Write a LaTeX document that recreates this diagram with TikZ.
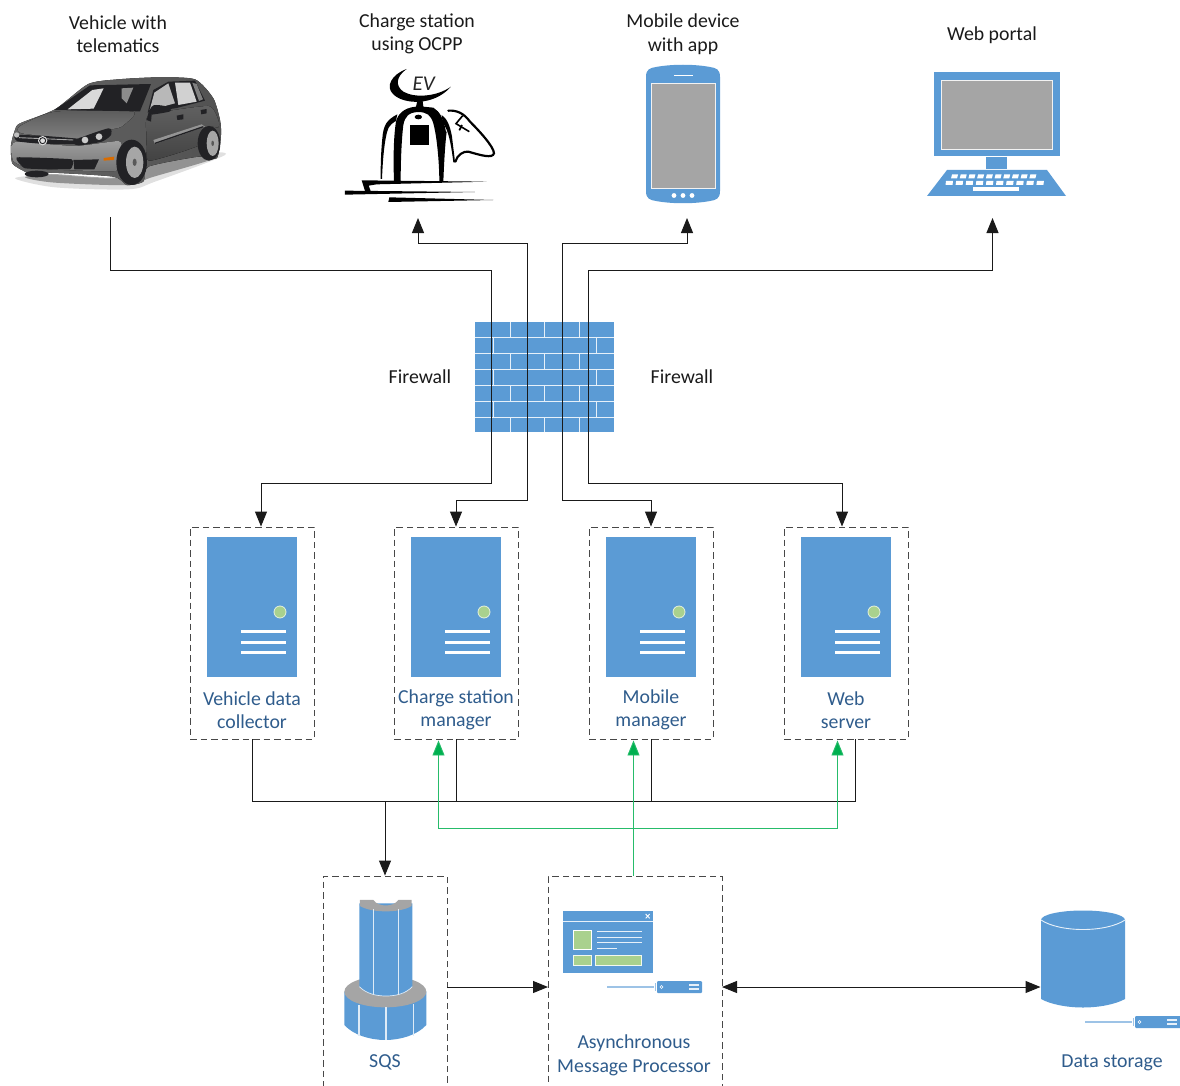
\documentclass[tikz,border=0pt]{standalone}
\usepackage{fontspec}
\setmainfont{Carlito}
\usetikzlibrary{arrows.meta,calc}
\definecolor{ibm}{HTML}{5B9BD5}
\definecolor{igray}{HTML}{A5A5A5}
\definecolor{igreen}{HTML}{A9D18E}
\definecolor{ltxt}{HTML}{2F5C8C}
\definecolor{ink}{HTML}{1A1A1A}
\definecolor{lblue}{HTML}{9DC3E6}
\definecolor{gline}{HTML}{00B050}
\definecolor{cardk}{HTML}{222225}
\tikzset{
 dashbox/.style={draw=ink!80,line width=0.9pt,dash pattern=on 6.5pt off 4pt,inner sep=0pt,anchor=center},
 blacklabel/.style={font=\fontsize{19.8}{23.5}\selectfont,text=ink,align=center,inner sep=0pt},
 bluelabel/.style={font=\fontsize{19.8}{23.5}\selectfont,text=ltxt,align=center,inner sep=0pt},
 conn/.style={draw=ink,line width=1pt},
 tip/.style={-{Triangle[length=15pt,width=12pt]}},
 tips/.style={{Triangle[length=15pt,width=12pt]}-{Triangle[length=15pt,width=12pt]}},
 gconn/.style={draw=gline!85,line width=0.9pt},
 gtip/.style={{Triangle[length=15pt,width=12pt,fill=gline]}-{Triangle[length=15pt,width=12pt,fill=gline]}},
 mortar/.style={draw=white!85!ibm,line width=1pt},
 whitebar/.style={draw=white,line width=3pt},
 zoomed/.style={x=0.33333pt,y=-0.33333pt},
}
\newcommand{\serverIcon}[2]{%
 \node[fill=ibm,minimum width=90pt,minimum height=140pt,inner sep=0pt] (#2) at (#1+45,607) {};
 \fill[igreen,draw=white!70!igreen,line width=0.8pt] (#1+73,612) circle (6pt);
 \foreach \yy in {631,642,652} \draw[whitebar] (#1+34,\yy) -- (#1+79,\yy);
}
\newcommand{\handleIcon}[3]{%
 \draw[lblue,line width=1.1pt] (#1,#2) -- (#1+47,#2);
 \fill[ibm,rounded corners=1pt] (#1+50,#2-6) rectangle (#3,#2+6);
 \draw[lblue,line width=0.8pt] (#1+48.5,#2-4) -- (#1+48.5,#2+4);
 \draw[white,line width=0.6pt] (#1+54.5,#2) circle (1.5pt);
 \draw[white!85!ibm,line width=1.1pt] (#1+82,#2-2) -- (#1+92,#2-2) (#1+82,#2+2) -- (#1+92,#2+2);
}
\begin{document}
\begin{tikzpicture}[x=1pt,y=-1pt]
\useasboundingbox (0,0) rectangle (1180,1086);
\clip (0,0) rectangle (1180,1086);

% ---------- top labels
\node[blacklabel] (lcar) at (118,34) {Vehicle with\\telematics};
\node[blacklabel] (lev) at (417,34) {Charge station\\using OCPP};
\node[blacklabel] (lphone) at (683,34) {Mobile device\\with app};
\node[blacklabel] (lweb) at (992,35) {Web portal};

% ---------- car
\begin{scope}[zoomed,shift={(15,210)}]
 % shadow
 \fill[black,opacity=0.12] plot[smooth cycle] coordinates {(30,325) (140,315) (330,325) (430,285) (580,250) (660,255) (450,335) (370,358) (150,352)};
 \fill[black,opacity=0.35] plot[smooth cycle] coordinates {(60,322) (140,312) (330,322) (430,282) (580,255) (630,265) (440,322) (370,345) (150,338)};
 % body
 \fill[left color=black!60,right color=black!68] plot[smooth cycle,tension=0.4] coordinates {(18,225) (30,180) (45,160) (150,118) (250,42) (340,28) (460,22) (570,28) (625,85) (645,150) (648,195) (635,265) (580,260) (430,290) (415,335) (365,345) (325,320) (130,308) (95,320) (60,305) (22,280)};
 % hood
 \fill[top color=black!64,bottom color=black!50] plot[smooth cycle,tension=0.35] coordinates {(45,168) (150,125) (385,125) (350,170) (320,178) (210,205) (50,190)};
 % bumper
 \fill[top color=black!38,bottom color=black!55] plot[smooth cycle,tension=0.3] coordinates {(20,228) (40,215) (210,228) (340,213) (350,235) (335,302) (130,298) (60,292) (24,272)};
 % door panel
 \fill[top color=black!62,bottom color=black!74] plot[smooth cycle,tension=0.3] coordinates {(432,135) (610,108) (640,150) (640,172) (605,170) (585,225) (432,272) (425,200)};
 \fill[black!42] (445,210) -- (590,163) -- (600,170) -- (450,222) -- cycle;
 \draw[cardk,line width=1.3pt] (450,220) -- (595,170);
 % windscreen
 \fill[cardk] (148,120) -- (255,46) -- (438,42) -- (405,124) -- cycle;
 \fill[white!85!black] (188,118) -- (262,60) -- (296,55) -- (266,116) -- cycle;
 \fill[black!45] (350,55) -- (385,53) -- (365,100) -- (350,85) -- cycle;
 % side glass
 \fill[cardk] (428,128) -- (445,60) -- (490,35) -- (570,32) -- (600,92) -- (515,114) -- cycle;
 \fill[black!28] (434,120) -- (448,68) -- (490,40) -- (510,100) -- cycle;
 \fill[black!18] (510,38) -- (555,38) -- (575,95) -- (520,105) -- cycle;
 \fill[black!50] (562,38) -- (575,42) -- (594,88) -- (582,93) -- cycle;
 % mirror
 \fill[cardk] plot[smooth cycle,tension=0.5] coordinates {(430,132) (445,106) (488,110) (495,124) (440,134)};
 \fill[cardk] (430,130) -- (440,134) -- (438,155) -- (425,150) -- cycle;
 % handles
 \fill[cardk] (515,137) -- (535,133) -- (535,148) -- (517,150) -- cycle;
 \fill[cardk] (587,120) -- (605,117) -- (605,130) -- (589,133) -- cycle;
 % grille
 \fill[cardk] plot[smooth cycle,tension=0.3] coordinates {(30,195) (120,198) (212,206) (208,222) (120,222) (38,214)};
 \draw[black!35,line width=0.9pt] (42,203) -- (205,210);
 \fill[black!12] (113,212) circle (14);
 \draw[cardk,line width=0.9pt] (113,212) circle (9);
 \fill[black!25] (35,195) circle (8);
 % headlight
 \fill[cardk] plot[smooth cycle,tension=0.4] coordinates {(205,212) (310,175) (318,195) (290,215) (220,226)};
 \fill[black!20] (240,210) circle (10);
 \fill[black!20] (282,200) circle (10);
 % lower grille
 \fill[cardk] plot[smooth cycle,tension=0.2] coordinates {(35,262) (200,268) (195,298) (60,295)};
 \fill[cardk] (205,270) -- (282,268) -- (268,298) -- (208,298) -- cycle;
 \fill[orange!85!black] (296,264) -- (328,260) -- (326,270) -- (296,272) -- cycle;
 % wheels
 \fill[cardk] (95,312) ellipse (36 and 10);
 \fill[cardk] (380,277) ellipse (46 and 68);
 \fill[black!35] (389,277) ellipse (26 and 47);
 \fill[black!65] (389,277) ellipse (6 and 11);
 \fill[cardk] (612,220) ellipse (34 and 52);
 \fill[black!35] (623,220) ellipse (18 and 38);
 \fill[black!65] (623,220) ellipse (4 and 8);
\end{scope}

% ---------- charge station
\begin{scope}[zoomed,shift={(1020,195)}]
 % crescent
 \fill[black] (200,12) .. controls (155,28) and (135,65) .. (160,88) .. controls (190,118) and (280,125) .. (333,65) .. controls (290,95) and (225,100) .. (190,80) .. controls (165,62) and (168,35) .. (200,12) -- cycle;
 \node[font=\itshape\fontsize{21}{21}\selectfont,inner sep=0pt,text=black!85] (evtext) at (251,55) {EV};
 % neck and body
 \fill[black] (232,108) -- (248,108) -- (250,125) -- (280,128) .. controls (300,140) and (310,160) .. (318,200) -- (320,200) .. controls (315,240) and (312,300) .. (310,350) -- (298,350) .. controls (298,300) and (292,220) .. (280,175) .. controls (272,150) and (262,142) .. (235,141) .. controls (205,142) and (195,155) .. (190,180) .. controls (184,230) and (182,300) .. (182,350) -- (162,350) .. controls (160,290) and (160,220) .. (168,170) .. controls (172,150) and (190,128) .. (228,125) -- cycle;
 % left arm
 \fill[black] (172,148) .. controls (140,165) and (130,180) .. (127,220) .. controls (122,270) and (122,310) .. (122,342) -- (126,342) .. controls (128,290) and (133,220) .. (145,190) .. controls (150,180) and (160,172) .. (168,168) -- cycle;
 % right arm
 \fill[black] (305,150) .. controls (320,160) and (330,180) .. (336,215) .. controls (340,250) and (343,270) .. (345,292) -- (340,292) .. controls (335,250) and (328,210) .. (318,190) -- (308,170) -- cycle;
 % screen and lamp
 \fill[black] (209,180) rectangle (267,241);
 \fill[black] (235,156) ellipse (11 and 7);
 % hose
 \draw[black,line width=2.2pt,line cap=round] (325,137) .. controls (350,135) and (372,145) .. (390,170) .. controls (415,195) and (462,245) .. (462,265) .. controls (458,282) and (420,270) .. (385,260) .. controls (370,258) and (352,270) .. (346,290);
 % nozzle
 \draw[black,line width=1.6pt] (368,152) -- (348,176) -- (388,200) (366,180) -- (358,196);
 % ground strokes
 \fill[black] (65,346) -- (440,350) -- (110,358) -- (86,362) -- (92,378) -- (75,378) -- cycle;
 \fill[black] (15,377) -- (405,381) -- (15,389) -- cycle;
 \fill[black] (148,397) -- (460,405) -- (145,411) -- cycle;
\end{scope}

% ---------- phone
\fill[ibm] (646,77) .. controls (646,69) and (650,68) .. (656,67) .. controls (672,64) and (694,64) .. (710,67) .. controls (716,68) and (720,69) .. (720,77) -- (720,191) .. controls (720,199) and (716,200) .. (710,201) .. controls (694,204) and (672,204) .. (656,201) .. controls (650,200) and (646,199) .. (646,191) -- cycle;
\node[fill=igray,draw=white!85!igray,line width=0.9pt,inner sep=0pt,minimum width=64pt,minimum height=104.5pt] (phone) at (683,135.75) {};
\draw[white,line width=0.8pt] (674,75) -- (693,75);
\foreach \xx in {674,683,692} \fill[white] (\xx,195.5) circle (2.4pt);

% ---------- monitor
\fill[ibm] (934,72) rectangle (1060,156);
\node[fill=igray,draw=white!85!igray,line width=0.9pt,inner sep=0pt,minimum width=111pt,minimum height=69pt] (screen) at (997.25,114.5) {};
\fill[ibm] (986,157) rectangle (1007,169);
\fill[ibm] (947,170) -- (1047,170) -- (1066,196) -- (927,196) -- cycle;
\foreach \kk in {0,...,9} {
 \fill[white] (952+\kk*8.7,174.5) -- (958+\kk*8.7,174.5) -- (957+\kk*8.7,178.5) -- (951+\kk*8.7,178.5) -- cycle;
 \fill[white] (946+\kk*10.1,181) -- (953+\kk*10.1,181) -- (952.5+\kk*10.1,185) -- (945.5+\kk*10.1,185) -- cycle;
}
\fill[white] (973,187.5) rectangle (1019,191.5);

% ---------- firewall
\node[fill=ibm,minimum width=139pt,minimum height=110pt,inner sep=0pt] (firewall) at (544.5,377) {};
\foreach \yy in {337.5,353.5,369,385,401,417} \draw[mortar] (475,\yy) -- (614,\yy);
\foreach \yt/\yb in {322/337.5,353.5/369,385/401,417/432} \foreach \xx in {510,544.5,579} \draw[mortar] (\xx,\yt) -- (\xx,\yb);
\foreach \yt/\yb in {337.5/353.5,369/385,401/417} \foreach \xx in {493,596} \draw[mortar] (\xx,\yt) -- (\xx,\yb);
\node[blacklabel] (lfw1) at (420,376.5) {Firewall};
\node[blacklabel] (lfw2) at (682,376.5) {Firewall};

% ---------- servers
\node[dashbox,minimum width=124pt,minimum height=212pt] (vdc) at (252,633) {};
\node[dashbox,minimum width=124pt,minimum height=212pt] (csm) at (456,633) {};
\node[dashbox,minimum width=124pt,minimum height=212pt] (mm) at (651,633) {};
\node[dashbox,minimum width=124pt,minimum height=212pt] (ws) at (846,633) {};
\serverIcon{207}{svA}
\serverIcon{411}{svB}
\serverIcon{606}{svC}
\serverIcon{801}{svD}
\node[bluelabel] (lvdc) at (252,710) {Vehicle data\\collector};
\node[bluelabel] (lcsm) at (456,710) {Charge station\\manager};
\node[bluelabel] (lmm) at (651,710) {Mobile\\manager};
\node[bluelabel] (lws) at (846,710) {Web\\server};

% ---------- lower boxes
\node[dashbox,minimum width=124pt,minimum height=240pt] (sqs) at (385,996) {};
\node[dashbox,minimum width=174pt,minimum height=240pt] (amp) at (635,996) {};

% SQS icon
\begin{scope}[zoomed,shift={(930,2610)}]
 \fill[ibm] (103,365) -- (103,465) .. controls (130,495) and (180,510) .. (226,510) .. controls (272,510) and (322,495) .. (349,465) -- (349,365) -- cycle;
 \fill[igray] (226,365) ellipse (123 and 47);
 \draw[white!80!ibm,line width=1.1pt] (147,404) -- (147,498) (228,412) -- (228,510) (310,402) -- (310,498);
 \fill[ibm] (148,100) -- (148,350) .. controls (170,372) and (200,378) .. (228,378) .. controls (256,378) and (286,372) .. (307,350) -- (307,100) -- cycle;
 \fill[igray] (150,90) -- (190,90) .. controls (205,112) and (250,112) .. (265,90) -- (305,90) -- (305,108) .. controls (285,120) and (255,124) .. (228,124) .. controls (200,124) and (170,120) .. (150,108) -- cycle;
 \draw[white!80!ibm,line width=1.1pt] (190,118) -- (190,373) (265,118) -- (265,373);
 \draw[white!80!ibm,line width=0.7pt] (148,350) .. controls (170,372) and (200,378) .. (228,378) .. controls (256,378) and (286,372) .. (307,350);
\end{scope}
\node[bluelabel] (lsqs) at (385,1062) {SQS};

% processor window
\begin{scope}[zoomed,shift={(930,2610)}]
 \fill[ibm] (758,122) rectangle (1028,310);
 \draw[white!85!ibm,line width=0.9pt] (758,155) -- (1028,155);
 \draw[white,line width=0.9pt] (1007,132) -- (1019,145) (1019,132) -- (1007,145);
 \fill[igreen,draw=white,line width=0.8pt] (790,180) rectangle (845,238);
 \draw[white!85!ibm,line width=0.8pt] (862,185) -- (996,185) (862,201) -- (996,201) (862,218) -- (996,218) (862,235) -- (920,235);
 \fill[igreen,draw=white!85!igreen,line width=0.7pt] (790,257) rectangle (845,285);
 \fill[igreen,draw=white!85!igreen,line width=0.7pt] (857,257) rectangle (993,285);
\end{scope}
\handleIcon{607}{987}{702}
\node[bluelabel] (lamp) at (634,1055.5) {Asynchronous\\Message Processor};

% ---------- storage
\fill[ibm] (1041,920) -- (1041,999) .. controls (1050,1004) and (1066,1007.5) .. (1083,1007.5) .. controls (1100,1007.5) and (1116,1004) .. (1125,999) -- (1125,920) -- cycle;
\fill[ibm] (1083,920) ellipse (42pt and 9.5pt);
\node[inner sep=0pt,minimum width=84pt,minimum height=88pt] (store) at (1083,963.5) {};
\draw[white!85!ibm,line width=0.9pt] (1041,920) .. controls (1050,926) and (1066,929.5) .. (1083,929.5) .. controls (1100,929.5) and (1116,926) .. (1125,920);
\handleIcon{1085}{1022}{1185}
\node[bluelabel] (lstore) at (1112,1063) {Data storage};

% ---------- named connector ends
\coordinate (carout) at (110,217);
\coordinate (evin) at (418,218);
\coordinate (phonein) at (687,218);
\coordinate (webin) at (992.5,218);
\coordinate (vdcin) at ($(vdc.north)+(9,0)$);
\coordinate (wsin) at ($(ws.north)+(-4,0)$);
\coordinate (bus) at (385,801);
\coordinate (csmg) at ($(csm.south)+(-17.5,1)$);
\coordinate (mmg) at ($(mm.south)+(-17.5,1)$);
\coordinate (wsg) at ($(ws.south)+(-8.5,1)$);
\coordinate (ampg) at (633.5,876);

% ---------- connectors
\draw[conn,tip] (carout) -- (110,270) -- (491.5,270) -- (491.5,483) -- (261,483) -- (vdcin);
\draw[conn,tips] (evin) -- (418,243) -- (527,243) -- (527,500) -- (456,500) -- (csm.north);
\draw[conn,tips] (phonein) -- (687,243) -- (562,243) -- (562,500) -- (651,500) -- (mm.north);
\draw[conn,tips] (webin) -- (992.5,270) -- (588.5,270) -- (588.5,483) -- (842,483) -- (wsin);
\draw[conn] (vdc.south) -- (252,801) -- (855,801) -- (855,739);
\draw[conn] (csm.south) -- (456,801);
\draw[conn] (mm.south) -- (651,801);
\draw[conn,tip] (bus) -- (sqs.north);
\draw[gconn,gtip] (csmg) -- (438.5,828.5) -- (837.5,828.5) -- (wsg);
\draw[gconn,-{Triangle[length=15pt,width=12pt,fill=gline]}] (ampg) -- (mmg);
\draw[conn,tip] (447,987) -- (548,987);
\draw[conn,tips] (722,987) -- (1040.5,987);
\end{tikzpicture}
\end{document}
